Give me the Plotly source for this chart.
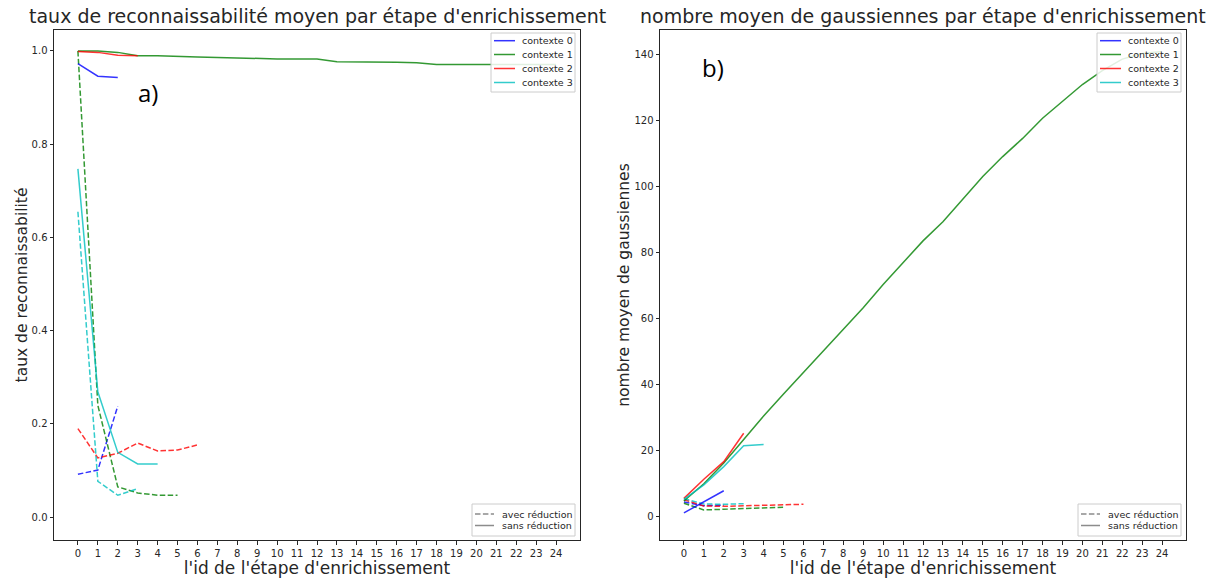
import plotly.graph_objects as go

# ---------------- data ----------------
steps = list(range(25))
x_ticks = list(range(25))

# a) taux de reconnaissabilité - sans réduction
reco_sans_c0 = [0.973, 0.946, 0.943]
reco_sans_c1 = [1.0, 1.0, 0.997, 0.990, 0.990, 0.988, 0.987, 0.986, 0.985, 0.983,
                0.983, 0.983, 0.983, 0.977, 0.977, 0.976, 0.976, 0.975, 0.971, 0.971,
                0.971, 0.971, 0.971, 0.971, 0.971]
reco_sans_c2 = [0.999, 0.997, 0.991, 0.990]
reco_sans_c3 = [0.747, 0.269, 0.139, 0.114, 0.114]
# a) avec réduction
reco_avec_c0 = [0.092, 0.101, 0.238]
reco_avec_c1 = [1.0, 0.24, 0.065, 0.052, 0.047, 0.047]
reco_avec_c2 = [0.190, 0.127, 0.137, 0.159, 0.142, 0.144, 0.155]
reco_avec_c3 = [0.655, 0.077, 0.047, 0.061]

# b) nombre moyen de gaussiennes - sans réduction
gauss_sans_c0 = [1.2, 4.6, 7.9]
gauss_sans_c1 = [4.8, 10.0, 16.3, 23.5, 30.5, 37.2, 43.8, 50.3, 56.8, 63.3,
                 70.3, 77.0, 83.5, 89.3, 96.0, 103.0, 109.0, 114.5, 120.6, 125.8,
                 130.8, 135.0, 138.5, 140.2, 140.8]
gauss_sans_c2 = [5.6, 11.4, 16.7, 25.3]
gauss_sans_c3 = [5.3, 9.7, 15.2, 21.5, 21.9]
# b) avec réduction
gauss_avec_c0 = [4.5, 3.4, 3.5]
gauss_avec_c1 = [4.1, 2.1, 2.3, 2.5, 2.7, 2.9]
gauss_avec_c2 = [5.2, 3.3, 3.2, 3.3, 3.5, 3.6, 3.8]
gauss_avec_c3 = [5.5, 3.9, 3.8, 4.0]

contexts = ["contexte 0", "contexte 1", "contexte 2", "contexte 3"]
colors = ["rgba(0,0,255,0.8)", "rgba(0,128,0,0.8)", "rgba(255,0,0,0.8)", "rgba(0,191,191,0.8)"]
style_names = ["avec réduction", "sans réduction"]
y1_ticks = [0, 0.2, 0.4, 0.6, 0.8, 1.0]
y2_ticks = [0, 20, 40, 60, 80, 100, 120, 140]

reco_sans = [reco_sans_c0, reco_sans_c1, reco_sans_c2, reco_sans_c3]
reco_avec = [reco_avec_c0, reco_avec_c1, reco_avec_c2, reco_avec_c3]
gauss_sans = [gauss_sans_c0, gauss_sans_c1, gauss_sans_c2, gauss_sans_c3]
gauss_avec = [gauss_avec_c0, gauss_avec_c1, gauss_avec_c2, gauss_avec_c3]

FONT = "DejaVu Sans"
DASH = "5.5px,2.4px"
W, H = 1219, 581
TXT = "#262626"

fig = go.Figure()

def add_panel(sans, avec, xa, ya):
    for i in range(4):
        fig.add_trace(go.Scatter(x=steps[:len(avec[i])], y=avec[i], mode="lines",
                                 name=contexts[i] + " (avec réduction)",
                                 line=dict(color=colors[i], width=1.5, dash=DASH),
                                 xaxis=xa, yaxis=ya, showlegend=False))
    for i in range(4):
        fig.add_trace(go.Scatter(x=steps[:len(sans[i])], y=sans[i], mode="lines",
                                 name=contexts[i] + " (sans réduction)",
                                 line=dict(color=colors[i], width=1.5),
                                 xaxis=xa, yaxis=ya, showlegend=False))

add_panel(reco_sans, reco_avec, "x", "y")
add_panel(gauss_sans, gauss_avec, "x2", "y2")

shapes = []
annotations = []

def px(x):
    return x / W

def py(y):
    return (H - y) / H

def legend_box(x0, y0, x1, y1, labels, line_colors, dashes, row_y, line_x0, line_x1, text_x):
    shapes.append(dict(type="rect", xref="paper", yref="paper",
                       x0=px(x0), x1=px(x1), y0=py(y1), y1=py(y0),
                       fillcolor="rgba(255,255,255,0.85)",
                       line=dict(color="#cccccc", width=1), layer="above"))
    for k, lab in enumerate(labels):
        yy = row_y[k]
        shapes.append(dict(type="line", xref="paper", yref="paper",
                           x0=px(line_x0), x1=px(line_x1), y0=py(yy), y1=py(yy),
                           line=dict(color=line_colors[k], width=1.5, dash=dashes[k]),
                           layer="above"))
        annotations.append(dict(text=lab, x=px(text_x), y=py(yy), xref="paper", yref="paper",
                                showarrow=False, xanchor="left", yanchor="middle",
                                font=dict(family=FONT, size=9.5, color=TXT)))

for off in (0, 606):
    legend_box(491 + off, 33, 575 + off, 92, contexts, colors, ["solid"] * 4,
               [40.7, 54.5, 68.5, 82.5], 494 + off, 515 + off, 520 + off)
    legend_box(472 + off, 504, 575 + off, 536, style_names,
               ["rgba(128,128,128,0.9)", "rgba(128,128,128,0.9)"], [DASH, "solid"],
               [514, 525.5], 475 + off, 494 + off, 500 + off)

annotations += [
    dict(text="taux de reconnaissabilité moyen par étape d'enrichissement",
         x=px(317), y=py(16), xref="paper", yref="paper", showarrow=False,
         xanchor="center", yanchor="middle", font=dict(family=FONT, size=19, color=TXT)),
    dict(text="nombre moyen de gaussiennes par étape d'enrichissement",
         x=px(923), y=py(16), xref="paper", yref="paper", showarrow=False,
         xanchor="center", yanchor="middle", font=dict(family=FONT, size=19, color=TXT)),
    dict(text="a)", x=px(148), y=py(92), xref="paper", yref="paper",
         showarrow=False, xanchor="center", yanchor="middle",
         font=dict(family="Open Sans", size=24, color="black")),
    dict(text="b)", x=px(713), y=py(67), xref="paper", yref="paper",
         showarrow=False, xanchor="center", yanchor="middle",
         font=dict(family="Open Sans", size=24, color="black")),
]

ydom = [py(540), py(30)]
axis_common = dict(showline=True, mirror=True, linecolor=TXT, linewidth=1,
                   ticks="outside", ticklen=3.5, tickwidth=1, tickcolor=TXT,
                   showgrid=False, zeroline=False,
                   tickfont=dict(family=FONT, size=10, color=TXT))

xaxis_common = dict(axis_common, tickmode="array", tickvals=x_ticks,
                    ticktext=[str(t) for t in x_ticks], range=[-1.2, 25.2])

fig.update_layout(
    width=W, height=H,
    margin=dict(l=0, r=0, t=0, b=0),
    paper_bgcolor="white", plot_bgcolor="white",
    font=dict(family=FONT, color=TXT),
    showlegend=False,
    hovermode="closest",
    xaxis=dict(xaxis_common, domain=[px(54), px(580)], anchor="y",
               title=dict(text="l'id de l'étape d'enrichissement",
                          font=dict(family=FONT, size=17, color=TXT), standoff=1)),
    yaxis=dict(axis_common, domain=ydom, anchor="x", range=[-0.049, 1.045],
               tickmode="array", tickvals=y1_ticks,
               ticktext=["%.1f" % v for v in y1_ticks],
               title=dict(text="taux de reconnaissabilité",
                          font=dict(family=FONT, size=15.5, color=TXT), standoff=0)),
    xaxis2=dict(xaxis_common, domain=[px(660), px(1186)], anchor="y2",
                title=dict(text="l'id de l'étape d'enrichissement",
                           font=dict(family=FONT, size=17, color=TXT), standoff=1)),
    yaxis2=dict(axis_common, domain=ydom, anchor="x2", range=[-7.0, 147.3],
                tickmode="array", tickvals=y2_ticks,
                title=dict(text="nombre moyen de gaussiennes",
                           font=dict(family=FONT, size=15.5, color=TXT), standoff=0)),
    shapes=shapes,
    annotations=annotations,
)

fig.write_html("out.html", config={"displayModeBar": False},
               post_script="document.body.style.margin='0';")
